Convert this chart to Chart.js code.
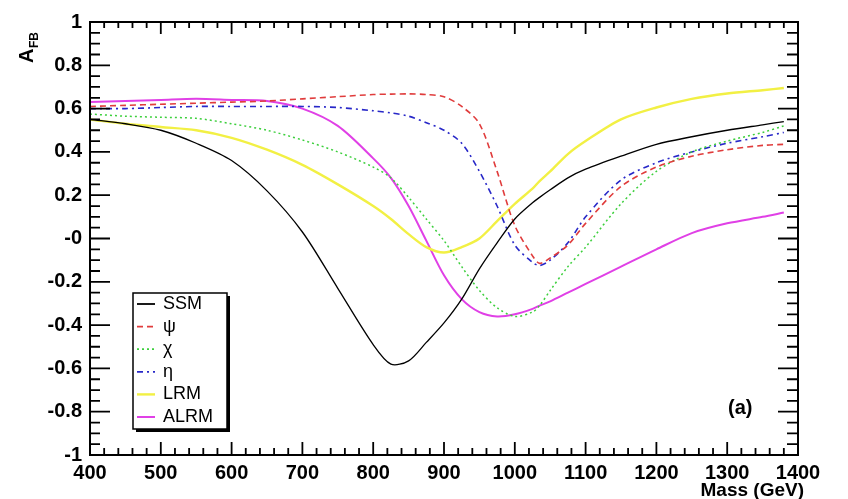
<!DOCTYPE html>
<html lang="en">
<head>
<meta charset="UTF-8">
<title>A_FB vs Mass</title>
<script src="https://cdn.jsdelivr.net/npm/chart.js"></script>
<style>
  html, body { margin: 0; padding: 0; background: #fff; }
  #wrap { width: 848px; height: 499px; }
</style>
</head>
<body>
<div id="wrap"><canvas id="afb"></canvas></div>
<script>
// mass points (GeV)
const masses = [400, 450, 500, 550, 600, 650, 700, 750, 800, 825, 850, 875, 900, 925, 950, 975, 1000, 1025, 1035, 1050, 1075, 1100, 1150, 1200, 1250, 1300, 1350, 1380];

const ssm  = [0.55, 0.53, 0.50, 0.44, 0.36, 0.22, 0.03, -0.23, -0.49, -0.58, -0.565, -0.48, -0.39, -0.28, -0.14, -0.02, 0.09, 0.165, 0.19, 0.225, 0.28, 0.32, 0.38, 0.435, 0.47, 0.50, 0.525, 0.54];
const psi  = [0.61, 0.615, 0.62, 0.625, 0.63, 0.635, 0.645, 0.655, 0.665, 0.667, 0.668, 0.665, 0.655, 0.61, 0.53, 0.31, 0.06, -0.08, -0.115, -0.09, -0.03, 0.07, 0.24, 0.33, 0.38, 0.41, 0.43, 0.435];
const chi  = [0.575, 0.565, 0.56, 0.555, 0.53, 0.50, 0.455, 0.40, 0.33, 0.28, 0.19, 0.09, -0.01, -0.13, -0.24, -0.32, -0.36, -0.34, -0.31, -0.24, -0.13, -0.04, 0.16, 0.31, 0.40, 0.45, 0.49, 0.52];
const eta  = [0.60, 0.60, 0.605, 0.61, 0.61, 0.61, 0.61, 0.605, 0.59, 0.58, 0.565, 0.535, 0.50, 0.44, 0.31, 0.15, -0.03, -0.11, -0.125, -0.10, -0.02, 0.10, 0.27, 0.35, 0.40, 0.44, 0.47, 0.49];
const lrm  = [0.55, 0.53, 0.515, 0.50, 0.465, 0.41, 0.34, 0.25, 0.15, 0.09, 0.02, -0.04, -0.065, -0.04, 0.0, 0.08, 0.16, 0.23, 0.265, 0.31, 0.39, 0.45, 0.55, 0.605, 0.645, 0.67, 0.685, 0.695];
const alrm = [0.63, 0.635, 0.64, 0.645, 0.64, 0.635, 0.60, 0.52, 0.37, 0.28, 0.15, -0.01, -0.17, -0.28, -0.34, -0.36, -0.35, -0.325, -0.31, -0.29, -0.25, -0.21, -0.13, -0.05, 0.025, 0.07, 0.10, 0.12];

const xTicks = [400, 500, 600, 700, 800, 900, 1000, 1100, 1200, 1300, 1400];
const yTicks = [-1, -0.8, -0.6, -0.4, -0.2, 0, 0.2, 0.4, 0.6, 0.8, 1];

const labelFont = 'bold 20px "Liberation Sans", Arial, sans-serif';

function pts(vals) {
    return masses.map((m, i) => ({ x: m, y: vals[i] }));
}

function series(label, vals, color, dash, width) {
    return {
        label: label,
        data: pts(vals),
        borderColor: color,
        backgroundColor: color,
        borderDash: dash,
        borderWidth: width,
        pointRadius: 0,
        fill: false,
        tension: 0.3
    };
}

// ROOT-like frame, inward ticks, legend box and labels
const rootStyle = {
    id: 'rootStyle',
    afterDraw(chart) {
        const ctx = chart.ctx;
        const a = chart.chartArea;
        const xs = chart.scales.x, ys = chart.scales.y;
        ctx.save();
        ctx.strokeStyle = '#000';
        ctx.lineWidth = 2;
        ctx.strokeRect(a.left, a.top, a.right - a.left, a.bottom - a.top);

        // x ticks (bottom and top)
        ctx.lineWidth = 1.8;
        for (let m = 400; m <= 1400; m += 20) {
            const px = xs.getPixelForValue(m);
            const major = (m % 100 === 0);
            ctx.beginPath();
            ctx.moveTo(px, a.bottom);
            ctx.lineTo(px, a.bottom - (major ? 13 : 7));
            ctx.moveTo(px, a.top);
            ctx.lineTo(px, a.top + (major ? 12 : 6));
            ctx.stroke();
        }
        // y ticks (left and right)
        for (let k = -20; k <= 20; k++) {
            const py = ys.getPixelForValue(k * 0.05);
            const major = (k % 4 === 0);
            ctx.beginPath();
            ctx.moveTo(a.left, py);
            ctx.lineTo(a.left + (major ? 20 : 10), py);
            ctx.moveTo(a.right, py);
            ctx.lineTo(a.right - (major ? 20 : 11), py);
            ctx.stroke();
        }

        // axis titles
        ctx.fillStyle = '#000';
        ctx.font = 'bold 19px "Liberation Sans", Arial, sans-serif';
        ctx.textAlign = 'right';
        ctx.textBaseline = 'alphabetic';
        ctx.fillText('Mass (GeV)', 804, 496);

        ctx.save();
        ctx.translate(33, 63);
        ctx.rotate(-Math.PI / 2);
        ctx.textAlign = 'left';
        ctx.font = 'bold 20px "Liberation Sans", Arial, sans-serif';
        ctx.fillText('A', 0, 0);
        ctx.font = 'bold 12px "Liberation Sans", Arial, sans-serif';
        ctx.fillText('FB', 15, 5);
        ctx.restore();

        // panel tag
        ctx.font = labelFont;
        ctx.textAlign = 'left';
        ctx.textBaseline = 'middle';
        ctx.fillText('(a)', 728, 408);

        // legend
        const lx = 133, ly = 293, lw = 94, lh = 136;
        ctx.fillStyle = '#000';
        ctx.fillRect(lx + 3, ly + 3, lw, lh);
        ctx.fillStyle = '#fff';
        ctx.fillRect(lx, ly, lw, lh);
        ctx.lineWidth = 1.5;
        ctx.strokeStyle = '#000';
        ctx.strokeRect(lx, ly, lw, lh);

        ctx.font = '18px "Liberation Sans", Arial, sans-serif';
        ctx.textBaseline = 'middle';
        chart.data.datasets.forEach((ds, i) => {
            const cy = ly + 11 + i * 22.6;
            ctx.save();
            ctx.strokeStyle = ds.borderColor;
            ctx.lineWidth = Math.max(ds.borderWidth, 1.8);
            ctx.setLineDash(ds.borderDash || []);
            ctx.beginPath();
            ctx.moveTo(lx + 4, cy);
            ctx.lineTo(lx + 22, cy);
            ctx.stroke();
            ctx.restore();
            ctx.fillStyle = '#000';
            ctx.fillText(ds.label, lx + 30, cy);
        });
        ctx.restore();
    }
};

new Chart(document.getElementById('afb'), {
    type: 'line',
    data: {
        datasets: [
            series('SSM', ssm, '#000000', [], 1.3),
            series('\u03c8', psi, '#e03c3c', [6, 4], 1.6),
            series('\u03c7', chi, '#3ccf3c', [2, 3], 1.5),
            series('\u03b7', eta, '#2828c8', [6, 4, 2, 4], 1.6),
            series('LRM', lrm, '#f2f044', [], 2.4),
            series('ALRM', alrm, '#e040e6', [], 2)
        ]
    },
    options: {
        responsive: true,
        maintainAspectRatio: false,
        animation: false,
        layout: { padding: { top: 22, right: 50, left: 0, bottom: 0 } },
        plugins: {
            legend: { display: false },
            tooltip: { enabled: false }
        },
        scales: {
            x: {
                type: 'linear',
                min: 400,
                max: 1400,
                afterFit(s) { s.height = 44; },
                afterBuildTicks(s) { s.ticks = xTicks.map(v => ({ value: v })); },
                grid: { display: false, drawTicks: false },
                border: { display: false },
                ticks: {
                    color: '#000',
                    font: { family: '"Liberation Sans", Arial, sans-serif', size: 20, weight: 'bold' },
                    padding: 6,
                    maxRotation: 0,
                    autoSkip: false,
                    callback: v => String(v)
                }
            },
            y: {
                type: 'linear',
                min: -1,
                max: 1,
                afterFit(s) { s.width = 90; },
                afterBuildTicks(s) { s.ticks = yTicks.map(v => ({ value: v })); },
                grid: { display: false, drawTicks: false },
                border: { display: false },
                ticks: {
                    color: '#000',
                    font: { family: '"Liberation Sans", Arial, sans-serif', size: 20, weight: 'bold' },
                    padding: 8,
                    autoSkip: false,
                    callback: v => (Math.abs(v) < 1e-9 ? '-0' : String(+v.toFixed(1)))
                }
            }
        }
    },
    plugins: [rootStyle]
});
</script>
</body>
</html>
